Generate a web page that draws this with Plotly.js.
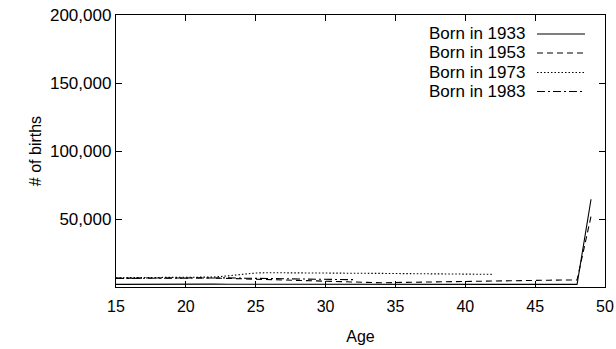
<!DOCTYPE html>
<html>
<head>
<meta charset="utf-8">
<script src="https://cdn.plot.ly/plotly-3.0.1.min.js"></script>
<style>html,body{margin:0;padding:0;background:#fff}#chart{width:616px;height:349px}</style>
</head>
<body>
<div id="chart"></div>
<script>
// ---- data ----
const ages1933 = [15,16,17,18,19,20,21,22,23,24,25,26,27,28,29,30,31,32,33,34,35,36,37,38,39,40,41,42,43,44,45,46,47,48,49];
const births1933 = [1900,2000,2100,2100,2200,2200,2100,2100,2000,2000,1900,1900,1900,1800,1800,1800,1700,1700,1700,1700,1700,1700,1700,1700,1700,1700,1700,1800,1800,1800,1800,1800,1900,1900,64500];

const ages1953 = [15,16,17,18,19,20,21,22,23,24,25,26,27,28,29,30,31,32,33,34,35,36,37,38,39,40,41,42,43,44,45,46,47,48,49];
const births1953 = [6500,6600,6600,6700,6700,6800,6700,6600,6300,5800,5300,5000,4700,4500,4300,4100,3700,3200,2900,3100,3300,3500,3600,3700,3800,4000,4200,4400,4500,4700,4900,5000,5100,5100,52000];

const ages1973 = [15,16,17,18,19,20,21,22,23,24,25,26,27,28,29,30,31,32,33,34,35,36,37,38,39,40,41,42];
const births1973 = [6800,6900,7000,7000,7100,7100,7200,7300,8200,9500,10300,10500,10500,10500,10400,10300,10200,10100,10000,10000,9900,9900,9800,9700,9600,9500,9400,9300];

const ages1983 = [15,16,17,18,19,20,21,22,23,24,25,26,27,28,29,30,31,32];
const births1983 = [6300,6400,6500,6600,6700,6800,6800,6800,6700,6500,6300,6000,5800,5700,5600,5500,5500,5400];

const seriesNames = ["Born in 1933","Born in 1953","Born in 1973","Born in 1983"];
const seriesX = [ages1933, ages1953, ages1973, ages1983];
const seriesY = [births1933, births1953, births1973, births1983];
const dashes = ["solid","6px,4px","1.5px,2px","8px,3px,2px,3px"];

const xTicks = [15,20,25,30,35,40,45,50];
const yTicks = [50000,100000,150000,200000];
const yTickText = ["50,000","100,000","150,000","200,000"];

// ---- chart ----
const traces = seriesNames.map((n,i)=>({
  x: seriesX[i], y: seriesY[i], name: n, type: "scatter", mode: "lines",
  line: {color: "#000", width: 1.1, dash: dashes[i]}, showlegend: false
}));

const L = 116, R = 605, T = 15, B = 287;
const W = 616, H = 349;
const px = v => (v - L) / (R - L);
const py = v => (B - v) / (B - T);

const rowsY = [34, 53, 72.5, 91.5];
const annotations = seriesNames.map((n,i)=>({
  xref:"paper", yref:"paper", x: px(527), y: py(rowsY[i]), xanchor:"right", yanchor:"middle",
  text: n, showarrow:false, font:{family:"Liberation Sans, Arial, sans-serif", size:17, color:"#000"}
}));
const shapes = seriesNames.map((n,i)=>({
  type:"line", xref:"paper", yref:"paper", x0: px(537), x1: px(585), y0: py(rowsY[i]), y1: py(rowsY[i]),
  line:{color:"#000", width:1.1, dash: dashes[i]}
}));

const font = {family:"Liberation Sans, Arial, sans-serif", size:16, color:"#000"};
const layout = {
  width: W, height: H,
  margin: {l: L, r: W - R, t: T, b: H - B, pad: 0},
  paper_bgcolor: "#fff", plot_bgcolor: "#fff",
  font: font,
  xaxis: {
    range: [15, 50], tickvals: xTicks, ticktext: xTicks.map(String),
    ticks: "inside", ticklen: 6, tickcolor: "#000", tickwidth: 1,
    showline: true, linecolor: "#000", linewidth: 1.2, mirror: "ticks",
    showgrid: false, zeroline: false, automargin: false,
    ticklabelstandoff: 5,
    tickfont: {family: font.family, size: 16, color: "#000"},
    title: {text: "Age", font: {family: font.family, size: 16, color: "#000"}, standoff: 16}
  },
  yaxis: {
    range: [0, 200000], tickvals: yTicks, ticktext: yTickText,
    ticks: "inside", ticklen: 6, tickcolor: "#000", tickwidth: 1,
    showline: true, linecolor: "#000", linewidth: 1.2, mirror: "ticks",
    showgrid: false, zeroline: false, automargin: false,
    tickfont: {family: font.family, size: 17, color: "#000"},
    title: {text: "# of births", font: {family: font.family, size: 16, color: "#000"}, standoff: 4}
  },
  annotations: annotations,
  shapes: shapes
};

Plotly.newPlot("chart", traces, layout, {staticPlot: true, displayModeBar: false});
</script>
</body>
</html>
